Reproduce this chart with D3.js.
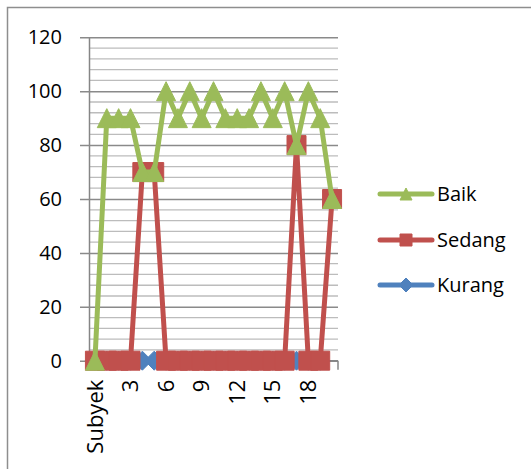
<!DOCTYPE html>
<html>
<head>
<meta charset="utf-8">
<script src="https://cdn.jsdelivr.net/npm/d3@7"></script>
<style>
  body { margin: 0; background: #fff; }
  svg { display: block; font-family: "Open Sans", sans-serif; }
</style>
</head>
<body>
<div class="chart-container"></div>
<script>
const width = 531;
const height = 469;

// Categories along the x axis: the header row plus subjects 1..20
const categories = ["Subyek", "1", "2", "3", "4", "5", "6", "7", "8", "9", "10",
  "11", "12", "13", "14", "15", "16", "17", "18", "19", "20"];

// Only every third category gets a label
const xLabels = ["Subyek", "3", "6", "9", "12", "15", "18"];

const baik = [0, 90, 90, 90, 70, 70, 100, 90, 100, 90, 100, 90, 90, 90, 100, 90, 100, 80, 100, 90, 60];
const sedang = [0, 0, 0, 0, 70, 70, 0, 0, 0, 0, 0, 0, 0, 0, 0, 0, 0, 80, 0, 0, 60];
// last subject has no Kurang value
const kurang = [0, 0, 0, 0, 0, 0, 0, 0, 0, 0, 0, 0, 0, 0, 0, 0, 0, 0, 0, 0, null];

const yTicks = [0, 20, 40, 60, 80, 100, 120];

// Series in drawing order (later ones on top)
const series = [
  {name: "Kurang", values: kurang, color: "#4F81BD", marker: "diamond"},
  {name: "Sedang", values: sedang, color: "#C0504D", marker: "square"},
  {name: "Baik", values: baik, color: "#9BBB59", marker: "triangle"}
];
// Legend order top to bottom
const legendOrder = ["Baik", "Sedang", "Kurang"];

const plot = {left: 89, right: 338, top: 37.3, bottom: 360.7};

const svg = d3.select('.chart-container')
  .append('svg')
  .attr('width', width)
  .attr('height', height);

// Outer chart frame (only top and left edges are in view)
svg.append('path')
  .attr('d', `M7.5,${height} V7.5 H${width}`)
  .attr('fill', 'none')
  .attr('stroke', '#8e8e8e')
  .attr('stroke-width', 1.5);

const x = d3.scaleBand()
  .domain(categories)
  .range([plot.left, plot.right]);

const y = d3.scaleLinear()
  .domain([0, 120])
  .range([plot.bottom, plot.top]);

const cx = d => x(d) + x.bandwidth() / 2;

// Minor gridlines every 4 units
svg.append('g')
  .selectAll('line')
  .data(d3.range(0, 121, 4).filter(v => v % 20 !== 0))
  .enter()
  .append('line')
  .attr('x1', plot.left)
  .attr('x2', plot.right)
  .attr('y1', d => y(d))
  .attr('y2', d => y(d))
  .attr('stroke', '#bcbcbc')
  .attr('stroke-width', 1.3);

// Major gridlines + y axis
const yAxis = svg.append('g')
  .attr('transform', `translate(${plot.left},0)`)
  .call(d3.axisLeft(y).tickValues(yTicks).tickSize(9).tickSizeOuter(0).tickPadding(18));

yAxis.select('.domain').attr('stroke', '#868686').attr('stroke-width', 1.5);
yAxis.selectAll('.tick line')
  .attr('x2', plot.right - plot.left)
  .attr('x1', -9)
  .attr('stroke', '#8a8a8a')
  .attr('stroke-width', 1.5);
yAxis.selectAll('.tick text')
  .attr('font-size', 20)
  .attr('font-family', '"Open Sans", sans-serif')
  .attr('fill', '#000');

// X axis line and tick marks at every third band boundary
svg.append('line')
  .attr('x1', plot.left)
  .attr('x2', plot.right)
  .attr('y1', y(0))
  .attr('y2', y(0))
  .attr('stroke', '#868686')
  .attr('stroke-width', 1.5);

svg.append('g')
  .selectAll('line')
  .data(d3.range(0, categories.length + 1, 3))
  .enter()
  .append('line')
  .attr('x1', i => plot.left + i * x.step())
  .attr('x2', i => plot.left + i * x.step())
  .attr('y1', y(0))
  .attr('y2', y(0) + 9)
  .attr('stroke', '#868686')
  .attr('stroke-width', 1.5);

// X labels, rotated
svg.append('g')
  .selectAll('text')
  .data(xLabels)
  .enter()
  .append('text')
  .attr('transform', d => `translate(${cx(d)},${y(0) + 19}) rotate(-90)`)
  .attr('text-anchor', 'end')
  .attr('dy', '0.35em')
  .attr('font-size', 22)
  .attr('fill', '#000')
  .text(d => d);

// Marker shapes, centered on the point
function markerPath(type, s) {
  const h = s / 2;
  if (type === 'triangle') return `M0,${-h} L${h},${h} L${-h},${h} Z`;
  if (type === 'square') return `M${-h},${-h} H${h} V${h} H${-h} Z`;
  return `M0,${-h} L${h},0 L0,${h} L${-h},0 Z`;
}

const line = d3.line()
  .defined(d => d != null)
  .x((d, i) => cx(categories[i]))
  .y(d => y(d));

series.forEach(s => {
  const g = svg.append('g').attr('class', 'series');
  g.append('path')
    .datum(s.values)
    .attr('d', line)
    .attr('fill', 'none')
    .attr('stroke', s.color)
    .attr('stroke-width', 5)
    .attr('stroke-linejoin', 'round');
  g.selectAll('.marker')
    .data(s.values.map((v, i) => ({v, c: categories[i]})).filter(d => d.v != null))
    .enter()
    .append('path')
    .attr('class', 'marker')
    .attr('transform', d => `translate(${cx(d.c)},${y(d.v)})`)
    .attr('d', markerPath(s.marker, 19))
    .attr('fill', s.color)
    .attr('stroke', s.color)
    .attr('stroke-width', 1);
});

// Legend
const legendY = [194, 240, 285];
const legend = svg.append('g')
  .selectAll('g')
  .data(legendOrder.map(n => series.find(s => s.name === n)))
  .enter()
  .append('g')
  .attr('transform', (d, i) => `translate(0,${legendY[i]})`);

legend.append('line')
  .attr('x1', 380)
  .attr('x2', 432)
  .attr('stroke', d => d.color)
  .attr('stroke-width', 5)
  .attr('stroke-linecap', 'round');

legend.append('path')
  .attr('transform', 'translate(406,0)')
  .attr('d', d => markerPath(d.marker, d.marker === 'diamond' ? 14 : 12))
  .attr('fill', d => d.color)
  .attr('stroke', d => d.color)
  .attr('stroke-width', 1);

legend.append('text')
  .attr('x', 437)
  .attr('dy', '0.35em')
  .attr('font-size', 20)
  .attr('fill', '#000')
  .text(d => d.name);
</script>
</body>
</html>
